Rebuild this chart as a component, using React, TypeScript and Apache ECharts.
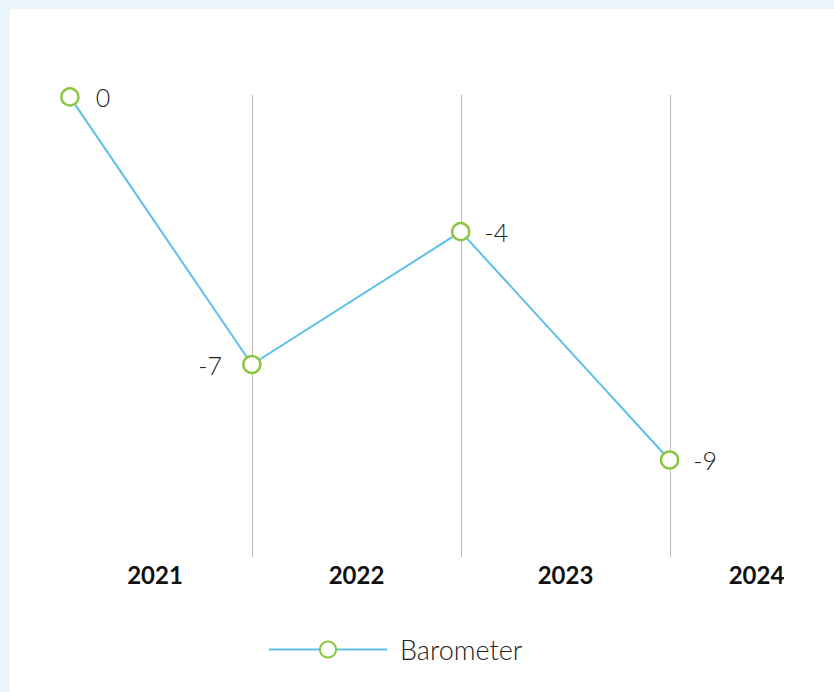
import React, { useEffect, useRef } from "react";
import * as echarts from "echarts";

const years = ["2021", "2022", "2023", "2024"];
const pointDates = ["2021-02-17", "2022-01-01", "2023-01-01", "2024-01-01"];
const barometer = [-0.05, -7.0, -3.55, -9.48];
const seriesName = "Barometer";

const FONT = "Lato, 'Open Sans', sans-serif";

export default function App() {
  const ref = useRef<HTMLDivElement>(null);

  useEffect(() => {
    if (!ref.current) return;
    const chart = echarts.init(ref.current, undefined, { renderer: "svg" });
    const data = barometer.map((v, i) => ({
      value: [pointDates[i], v],
      label:
        i === 1
          ? { position: "left", distance: 20 }
          : { position: "right", distance: i === 0 ? 16 : 14 },
    }));
    chart.setOption({
      animation: false,
      backgroundColor: "#ffffff",
      textStyle: { fontFamily: FONT },
      grid: { left: 33, top: 86, width: 836, height: 462, containLabel: false },
      xAxis: [
        {
          type: "category",
          data: years,
          boundaryGap: true,
          axisLine: { show: false },
          axisTick: { show: false },
          splitLine: {
            show: true,
            showMinLine: false,
            showMaxLine: false,
            lineStyle: { color: "#b9b9b9", width: 1 },
          },
          axisLabel: {
            margin: 5,
            fontFamily: FONT,
            fontSize: 24,
            fontWeight: "bold",
            color: "#111111",
            formatter: (v: string, i: number) =>
              i === 0 ? `{first|${v}}` : i === years.length - 1 ? `{last|${v}}` : `{mid|${v}}`,
            rich: {
              first: { padding: [0, 0, 0, 15], fontSize: 24, fontWeight: "bold", fontFamily: FONT, color: "#111111" },
              mid: { fontSize: 24, fontWeight: "bold", fontFamily: FONT, color: "#111111" },
              last: { padding: [0, 36, 0, 0], fontSize: 24, fontWeight: "bold", fontFamily: FONT, color: "#111111" },
            },
          },
        },
        {
          type: "time",
          show: false,
          min: "2021-01-01",
          max: "2025-01-01",
        },
      ],
      yAxis: {
        type: "value",
        min: -12,
        max: 0,
        show: false,
        splitLine: { show: false },
      },
      legend: {
        left: 258,
        top: 627,
        padding: 0,
        itemWidth: 118,
        itemHeight: 20,
        data: [seriesName],
        textStyle: {
          fontFamily: FONT,
          fontSize: 27,
          fontWeight: 300,
          color: "#222222",
          padding: [0, 0, 0, 8],
        },
      },
      series: [
        {
          name: seriesName,
          type: "line",
          xAxisIndex: 1,
          data,
          symbol: "circle",
          symbolSize: 17,
          showAllSymbol: true,
          lineStyle: { color: "#5bc1ea", width: 2 },
          itemStyle: { color: "#ffffff", borderColor: "#8cc63f", borderWidth: 2.5 },
          label: {
            show: true,
            fontFamily: FONT,
            fontSize: 25,
            fontWeight: 300,
            color: "#222222",
            formatter: (p: any) => `${Math.round(p.value[1])}`,
          },
          emphasis: { disabled: true },
        },
      ],
    });
    return () => chart.dispose();
  }, []);

  return (
    <div
      style={{
        position: "fixed",
        left: 0,
        top: 0,
        width: 834,
        height: 692,
        background: "#eaf6fb",
        overflow: "hidden",
      }}
    >
      <div
        style={{
          position: "absolute",
          left: 10,
          top: 9,
          width: 824,
          height: 683,
          background: "#ffffff",
          overflow: "hidden",
        }}
      >
        <div ref={ref} style={{ width: 880, height: 683 }} />
      </div>
    </div>
  );
}
